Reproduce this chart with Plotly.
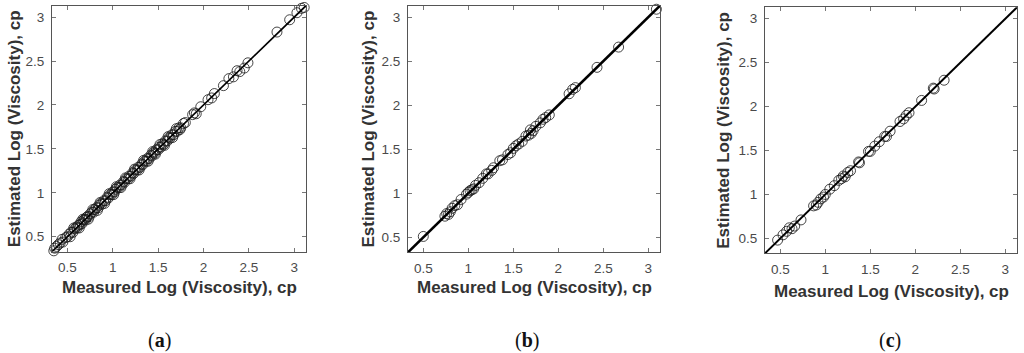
import plotly.graph_objects as go

# ---------------- data ----------------
a_measured = [0.35, 0.36, 0.38, 0.40, 0.42, 0.45, 0.48, 0.50, 0.52, 0.54, 0.56, 0.58, 0.60, 0.61,
              0.62, 0.64, 0.65, 0.66, 0.68, 0.69, 0.70, 0.71, 0.72, 0.74, 0.75, 0.77, 0.79, 0.80,
              0.82, 0.84, 0.85, 0.87, 0.88, 0.90, 0.92, 0.94, 0.95, 0.97, 0.99, 1.00, 1.02, 1.03,
              1.05, 1.07, 1.08, 1.10, 1.12, 1.13, 1.15, 1.17, 1.18, 1.20, 1.22, 1.23, 1.25, 1.27,
              1.28, 1.30, 1.32, 1.33, 1.35, 1.37, 1.38, 1.40, 1.42, 1.43, 1.45, 1.46, 1.48, 1.50,
              1.51, 1.53, 1.55, 1.56, 1.58, 1.60, 1.62, 1.63, 1.65, 1.67, 1.69, 1.71, 1.73, 1.75,
              1.78, 1.80, 1.88, 1.90, 1.92, 1.97, 2.05, 2.09, 2.12, 2.22, 2.28, 2.33, 2.37, 2.40,
              2.45, 2.49, 2.81, 2.95, 3.03, 3.08, 3.11,
              0.44, 0.53, 0.57, 0.63, 0.67, 0.73, 0.78, 0.83, 0.86, 0.91, 0.96, 1.01, 1.04, 1.09,
              1.14, 1.19, 1.24, 1.29, 1.34, 1.39, 1.44, 1.47, 1.52, 1.57, 1.61, 1.66, 1.70, 1.74]
a_estimated = [0.34, 0.37, 0.39, 0.41, 0.43, 0.44, 0.49, 0.50, 0.53, 0.55, 0.55, 0.59, 0.61, 0.60,
               0.63, 0.64, 0.67, 0.65, 0.69, 0.70, 0.69, 0.72, 0.73, 0.73, 0.76, 0.78, 0.78, 0.81,
               0.83, 0.83, 0.86, 0.88, 0.87, 0.91, 0.91, 0.95, 0.94, 0.98, 0.98, 1.01, 1.01, 1.04,
               1.06, 1.06, 1.09, 1.09, 1.13, 1.12, 1.16, 1.16, 1.19, 1.19, 1.23, 1.22, 1.26, 1.26,
               1.29, 1.29, 1.33, 1.32, 1.36, 1.36, 1.39, 1.39, 1.43, 1.42, 1.46, 1.45, 1.49, 1.49,
               1.52, 1.52, 1.56, 1.55, 1.59, 1.59, 1.63, 1.62, 1.66, 1.66, 1.70, 1.70, 1.74, 1.74,
               1.79, 1.80, 1.89, 1.91, 1.90, 1.98, 2.06, 2.08, 2.13, 2.22, 2.30, 2.32, 2.39, 2.38,
               2.42, 2.48, 2.83, 2.97, 3.05, 3.10, 3.11,
               0.47, 0.50, 0.60, 0.60, 0.70, 0.70, 0.81, 0.80, 0.89, 0.88, 0.99, 0.98, 1.07, 1.06,
               1.17, 1.16, 1.27, 1.26, 1.37, 1.36, 1.47, 1.44, 1.55, 1.54, 1.64, 1.63, 1.73, 1.72]

b_measured = [0.50, 0.74, 0.76, 0.78, 0.80, 0.82, 0.85, 0.88, 0.92, 0.98, 1.00, 1.02, 1.04, 1.06,
              1.08, 1.12, 1.16, 1.20, 1.22, 1.26, 1.28, 1.35, 1.38, 1.44, 1.47, 1.50, 1.53, 1.56,
              1.60, 1.64, 1.67, 1.69, 1.70, 1.72, 1.75, 1.80, 1.83, 1.86, 1.90, 2.12, 2.16, 2.19,
              2.43, 2.67, 3.09]
b_estimated = [0.51, 0.74, 0.77, 0.76, 0.79, 0.83, 0.86, 0.87, 0.93, 0.99, 1.01, 1.03, 1.04, 1.05,
               1.09, 1.12, 1.17, 1.22, 1.22, 1.26, 1.29, 1.37, 1.38, 1.44, 1.46, 1.51, 1.54, 1.56,
               1.59, 1.65, 1.66, 1.72, 1.68, 1.71, 1.76, 1.80, 1.84, 1.86, 1.89, 2.13, 2.18, 2.20,
               2.43, 2.66, 3.09]

c_measured = [0.47, 0.53, 0.57, 0.60, 0.63, 0.66, 0.73, 0.87, 0.90, 0.92, 0.95, 0.98, 1.00, 1.05,
              1.10, 1.15, 1.18, 1.20, 1.22, 1.25, 1.28, 1.37, 1.38, 1.48, 1.50, 1.55, 1.60, 1.66,
              1.68, 1.72, 1.83, 1.87, 1.90, 1.93, 2.07, 2.20, 2.21, 2.32]
c_estimated = [0.48, 0.54, 0.58, 0.62, 0.61, 0.64, 0.71, 0.87, 0.88, 0.91, 0.95, 0.97, 1.00, 1.06,
               1.10, 1.16, 1.18, 1.21, 1.20, 1.25, 1.27, 1.37, 1.36, 1.49, 1.49, 1.55, 1.60, 1.66,
               1.66, 1.72, 1.83, 1.86, 1.90, 1.93, 2.07, 2.21, 2.20, 2.30]

identity_line = [0.33, 3.13]
axis_range = [0.33, 3.13]
tick_values = [0.5, 1, 1.5, 2, 2.5, 3]
tick_labels = ["0.5", "1", "1.5", "2", "2.5", "3"]
panel_captions = ["a", "b", "c"]
x_title = "Measured Log (Viscosity), cp"
y_title = "Estimated Log (Viscosity), cp"

# ---------------- layout geometry (pixels) ----------------
W, H = 1024, 353
panels = [
    dict(x0=52, x1=306, y0=5.7, y1=251.7, lw=1.7, xs=a_measured, ys=a_estimated,
         ytx=14.5, xty=287, cap_x=159),
    dict(x0=408, x1=660, y0=5.7, y1=252.3, lw=2.6, xs=b_measured, ys=b_estimated,
         ytx=367.5, xty=287, cap_x=527),
    dict(x0=765, x1=1017, y0=7.3, y1=253.3, lw=2.0, xs=c_measured, ys=c_estimated,
         ytx=723.5, xty=291, cap_x=890),
]

fig = go.Figure()
annotations = []
sans = "Liberation Sans, Arial, sans-serif"

for i, p in enumerate(panels):
    n = "" if i == 0 else str(i + 1)
    xa, ya = "x" + n, "y" + n
    fig.add_trace(go.Scatter(
        x=p["xs"], y=p["ys"], mode="markers", xaxis=xa, yaxis=ya,
        marker=dict(symbol="circle-open", size=10, color="rgba(25,25,25,0.8)",
                    line=dict(width=1)),
        showlegend=False, cliponaxis=False))
    fig.add_trace(go.Scatter(
        x=identity_line, y=identity_line, mode="lines", xaxis=xa, yaxis=ya,
        line=dict(color="black", width=p["lw"]), showlegend=False))

    common = dict(range=axis_range, tickvals=tick_values, ticktext=tick_labels,
                  ticks="inside", ticklen=4, tickcolor="#777", tickwidth=1,
                  showline=True, linecolor="#555", linewidth=1, mirror="ticks",
                  showgrid=False, zeroline=False,
                  tickfont=dict(family=sans, size=13.5, color="#4a4a4a"))
    fig.layout["xaxis" + n] = dict(domain=[p["x0"] / W, p["x1"] / W],
                                   anchor=ya, ticklabelstandoff=3, **common)
    fig.layout["yaxis" + n] = dict(domain=[1 - p["y1"] / H, 1 - p["y0"] / H],
                                   anchor=xa, ticklabelstandoff=4, **common)

    annotations.append(dict(
        text="<b>" + x_title + "</b>", x=(p["x0"] + p["x1"]) / 2 / W, y=1 - p["xty"] / H,
        xref="paper", yref="paper", xanchor="center", yanchor="middle", showarrow=False,
        borderpad=0, font=dict(family=sans, size=17, color="#333")))
    annotations.append(dict(
        text="<b>" + y_title + "</b>", x=p["ytx"] / W, y=1 - (p["y0"] + p["y1"]) / 2 / H,
        xref="paper", yref="paper", xanchor="center", yanchor="middle", showarrow=False,
        borderpad=0, textangle=-90, font=dict(family=sans, size=17, color="#333")))
    annotations.append(dict(
        text="(<b>" + panel_captions[i] + "</b>)", x=p["cap_x"] / W, y=0,
        xref="paper", yref="paper", xanchor="center", yanchor="bottom", showarrow=False,
        borderpad=0,
        font=dict(family="Liberation Serif, Times New Roman, serif", size=20, color="#111")))

fig.update_layout(width=W, height=H, margin=dict(l=0, r=0, t=0, b=0),
                  plot_bgcolor="white", paper_bgcolor="white",
                  annotations=annotations)

fig.write_html("out.html", config={"displayModeBar": False},
               post_script="document.body.style.margin='0';document.body.style.overflow='hidden';")
